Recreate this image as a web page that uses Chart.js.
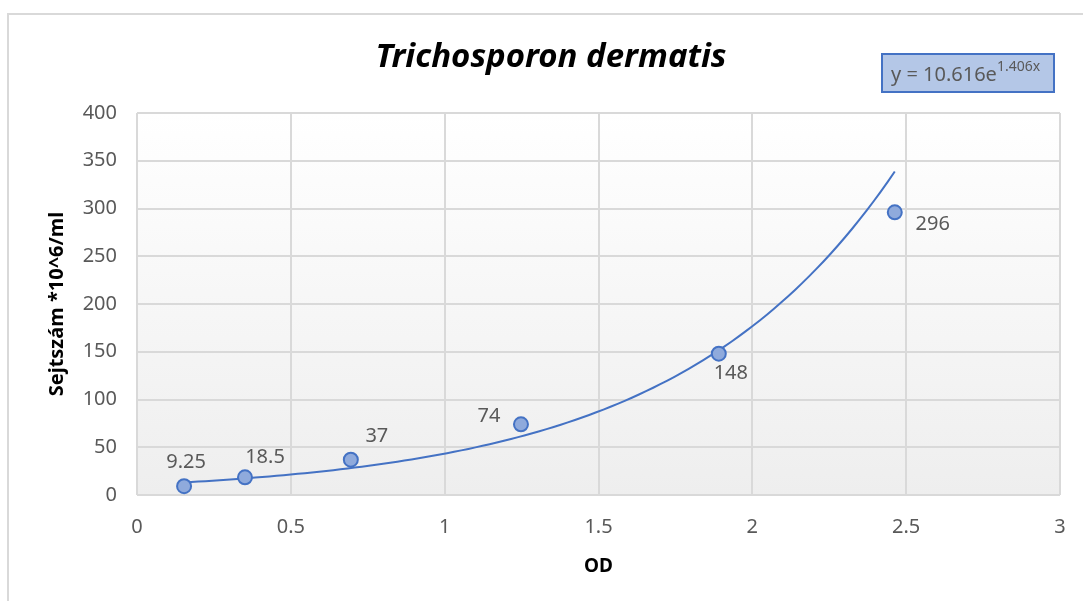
<!DOCTYPE html>
<html>
<head>
<meta charset="utf-8">
<script src="https://cdn.jsdelivr.net/npm/chart.js@4"></script>
<style>
  html, body { margin: 0; padding: 0; background: #fff; }
  #wrap { width: 1083px; height: 601px; position: relative; }
</style>
</head>
<body>
<div id="wrap"><canvas id="myChart" width="1083" height="601"></canvas></div>
<script>
// measured points (OD vs cell count)
const odValues = [0.153, 0.351, 0.695, 1.248, 1.891, 2.463];
const cellCounts = [9.25, 18.5, 37, 74, 148, 296];
const pointLabels = ['9.25', '18.5', '37', '74', '148', '296'];

// exponential trendline shown on the chart: y = 10.616e^(1.406x)
const trendA = 10.616;
const trendB = 1.406;
const trendFrom = 0.153, trendTo = 2.463;

const xTicks = [0, 0.5, 1, 1.5, 2, 2.5, 3];
const yTicks = [0, 50, 100, 150, 200, 250, 300, 350, 400];

const chartTitle = 'Trichosporon dermatis';
const xTitle = 'OD';
const yTitle = 'Sejtszám *10^6/ml';

const FONT = '"Noto Sans", "Open Sans", sans-serif';
const TEXT = '#595959';

const trendData = [];
for (let i = 0; i <= 100; i++) {
  const x = trendFrom + (trendTo - trendFrom) * i / 100;
  trendData.push({ x, y: trendA * Math.exp(trendB * x) });
}

// label offsets (px) relative to each point
const labelOffsets = [[2, -24], [20, -20], [26, -23], [-32, -8], [12, 20], [38, 12]];

const backgroundPlugin = {
  id: 'plotBg',
  beforeDraw(chart) {
    const { ctx, chartArea: a } = chart;
    ctx.save();
    // outer chart border
    ctx.strokeStyle = '#d9d9d9';
    ctx.lineWidth = 2;
    ctx.beginPath();
    ctx.moveTo(8, 601);
    ctx.lineTo(8, 14);
    ctx.lineTo(1083, 14);
    ctx.stroke();
    const g = ctx.createLinearGradient(0, a.top, 0, a.bottom);
    g.addColorStop(0, '#ffffff');
    g.addColorStop(1, '#eeeeee');
    ctx.fillStyle = g;
    ctx.fillRect(a.left, a.top, a.right - a.left, a.bottom - a.top);
    ctx.restore();
  }
};

const decorPlugin = {
  id: 'decor',
  afterDatasetsDraw(chart) {
    const { ctx } = chart;
    ctx.save();
    // data labels
    const meta = chart.getDatasetMeta(1);
    ctx.font = '20px ' + FONT;
    ctx.fillStyle = TEXT;
    ctx.textAlign = 'center';
    ctx.textBaseline = 'middle';
    meta.data.forEach((pt, i) => {
      const [dx, dy] = labelOffsets[i];
      ctx.fillText(pointLabels[i], pt.x + dx, pt.y + dy);
    });

    // title
    ctx.font = 'italic bold 33px ' + FONT;
    ctx.fillStyle = '#000';
    ctx.fillText(chartTitle, 551, 58);

    // equation box
    ctx.fillStyle = '#b4c7e7';
    ctx.fillRect(882, 54, 172, 38);
    ctx.strokeStyle = '#4472c4';
    ctx.lineWidth = 2;
    ctx.strokeRect(882, 54, 172, 38);
    ctx.fillStyle = TEXT;
    ctx.textAlign = 'left';
    ctx.font = '20px ' + FONT;
    const base = 'y = ' + trendA + 'e';
    ctx.fillText(base, 891, 75);
    const w = ctx.measureText(base).width;
    ctx.font = '14px ' + FONT;
    ctx.fillText(trendB + 'x', 891 + w, 67);
    ctx.restore();
  }
};

new Chart(document.getElementById('myChart'), {
  type: 'scatter',
  data: {
    datasets: [
      {
        label: 'Trend',
        data: trendData,
        showLine: true,
        borderColor: '#4472c4',
        borderWidth: 2,
        pointRadius: 0,
        tension: 0,
        order: 2
      },
      {
        label: 'OD',
        data: odValues.map((x, i) => ({ x, y: cellCounts[i] })),
        backgroundColor: '#8faadc',
        borderColor: '#4472c4',
        borderWidth: 2,
        pointRadius: 7,
        order: 1
      }
    ]
  },
  options: {
    responsive: false,
    animation: false,
    layout: { padding: { top: 113, right: 23, left: 7, bottom: 0 } },
    plugins: {
      legend: { display: false },
      tooltip: { enabled: false },
      title: { display: false }
    },
    scales: {
      x: {
        type: 'linear',
        min: 0, max: 3,
        afterBuildTicks: s => { s.ticks = xTicks.map(v => ({ value: v })); },
        afterFit: s => { s.height = 106; s.paddingRight = 6; s.paddingLeft = 6; },
        grid: { color: '#d9d9d9', lineWidth: 2, drawTicks: false },
        border: { display: false },
        ticks: { color: TEXT, font: { family: FONT, size: 20 }, padding: 20, callback: v => String(v) },
        title: { display: true, text: xTitle, color: '#000', font: { family: FONT, size: 19, weight: 'bold' }, padding: { bottom: 23 } }
      },
      y: {
        min: 0, max: 400,
        afterBuildTicks: s => { s.ticks = yTicks.map(v => ({ value: v })); },
        afterFit: s => { s.width = 130; },
        grid: { color: '#d9d9d9', lineWidth: 2, drawTicks: false },
        border: { display: false },
        ticks: { color: TEXT, font: { family: FONT, size: 20 }, padding: 20, callback: v => String(v) },
        title: { display: true, text: yTitle, color: '#000', font: { family: FONT, size: 20, weight: 'bold' }, padding: { top: 38 } }
      }
    }
  },
  plugins: [backgroundPlugin, decorPlugin]
});
</script>
</body>
</html>
